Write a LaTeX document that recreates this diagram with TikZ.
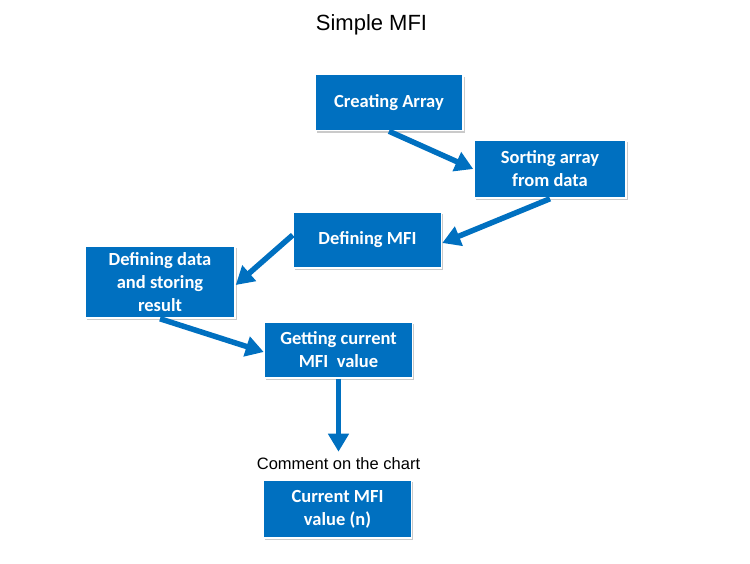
\documentclass[tikz,border=0pt]{standalone}
\usepackage{fontspec}
\setmainfont{Carlito}[BoldFont={Carlito Bold}]
\newfontfamily\arialfont{Liberation Sans}
\usetikzlibrary{arrows.meta, shadows}

\definecolor{mfiblue}{RGB}{0,112,192}

\begin{document}
\begin{tikzpicture}[
  x=1pt, y=-1pt,
  every node/.style={font=\fontsize{18.5}{23}\selectfont\bfseries},
  box/.style={rectangle, draw=white, line width=1.5pt, fill=mfiblue, text=white,
    minimum width=148pt, minimum height=56pt, align=center,
    drop shadow={shadow xshift=1.5pt, shadow yshift=-2pt, opacity=0.35, fill=black!60}},
  label/.style={font=\arialfont\fontsize{16.5}{19}\selectfont, inner sep=1pt},
  arrow/.style={-{Triangle[length=18pt, width=20pt]}, line width=5.5pt, draw=mfiblue}
]
\useasboundingbox (0,0) rectangle (750,563);

% Title
\node[font=\arialfont\fontsize{22}{26}\selectfont] (title) at (371.5,25) {Simple MFI};

% Steps
\node[box] (create) at (389,102.5) {Creating Array};
\node[box, minimum width=152pt, minimum height=58pt] (sort) at (550,169) {Sorting array\\from data};
\node[box] (mfi) at (367.5,240) {Defining MFI};
\node[box, minimum width=150pt, minimum height=72pt] (data) at (160,282)
  {Defining data\\and storing\\result};
\node[box] (get) at (338.5,350) {Getting current\\MFI\ \ value};

% Comment
\node[label] (comment) at (338.5,464) {Comment on the chart};
\node[box, minimum height=58pt] (value) at (337.5,509) {Current MFI\\value (n)};

% Arrows
\draw[arrow] (create.south) -- (sort.west);
\draw[arrow] (sort.south) -- ([yshift=-3pt]mfi.east);
\draw[arrow] ([yshift=5pt]mfi.west) -- ([yshift=-3pt]data.east);
\draw[arrow] (data.south) -- ([yshift=-2pt]get.west);
\draw[arrow] (get.south) -- ([yshift=5pt]comment.north);

\end{tikzpicture}
\end{document}
